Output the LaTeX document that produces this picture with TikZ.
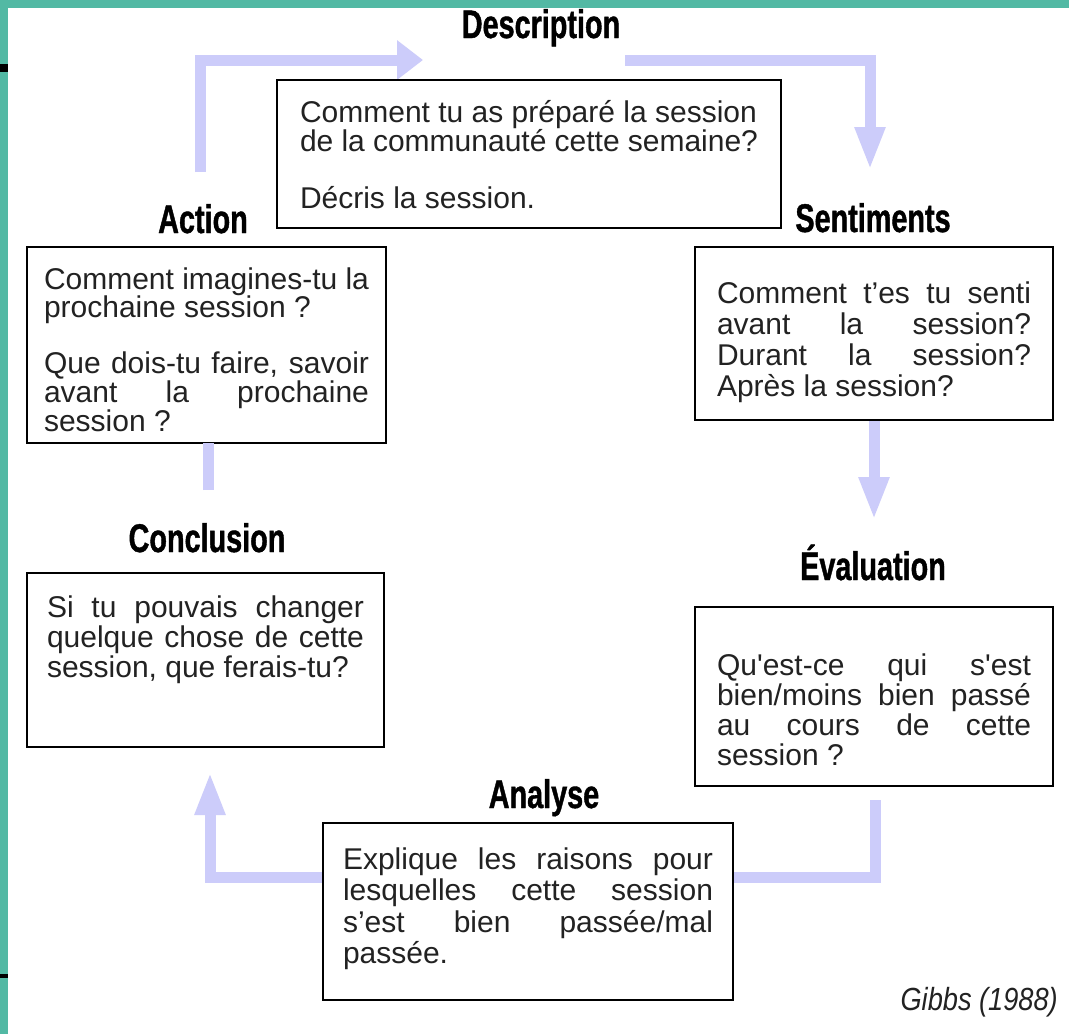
\documentclass[tikz,border=0pt]{standalone}
\usepackage{fontspec}
\setmainfont{Liberation Sans}
\newfontfamily\headfont{Liberation Sans}[FakeStretch=0.72, FakeBold=1]
\newfontfamily\gibbsfont{Liberation Sans}[FakeStretch=0.85]
\usetikzlibrary{arrows.meta}

\definecolor{bordergreen}{RGB}{82,185,164}
\definecolor{lavender}{RGB}{204,204,250}
\definecolor{textgray}{RGB}{34,34,34}

\newcommand{\jline}[1]{\hbox to\hsize{#1}}

\begin{document}
\begin{tikzpicture}[x=1pt, y=-1pt,
	head/.style={anchor=base, inner sep=0pt, font=\headfont\bfseries\fontsize{40}{42}\selectfont},
	box/.style={draw=black, line width=1.8pt, fill=white, anchor=north west, outer sep=0pt, inner ysep=0pt, align=justify, text=textgray, font=\fontsize{30}{27}\selectfont},
	flow/.style={draw=lavender, line width=11pt},
	bigtip/.style={-{Triangle[length=43pt, width=28pt]}}
	]

	\useasboundingbox (0,0) rectangle (1069,1034);
	\fill[white] (0,0) rectangle (1069,1034);
	\fill[bordergreen] (0,0) rectangle (1069,7.5);
	\fill[bordergreen] (0,0) rectangle (7.5,1034);
	\fill[black] (0,64) rectangle (7.5,72);
	\fill[black] (0,974) rectangle (7.5,978);

	\node (desc) [head] at (541,38) {Description};
	\node (act) [head] at (203,233) {Action};
	\node (feel) [head] at (873,232) {Sentiments};
	\node (concl) [head] at (207,552) {Conclusion};
	\node (eval) [head] at (873,580) {Évaluation};
	\node (anal) [head] at (544,808) {Analyse};

	\coordinate (actout) at (200,172);
	\coordinate (descin) at (423,60);
	\coordinate (descout) at (625,60);
	\coordinate (feelin) at (870,170);
	\coordinate (evalin) at (874,520);
	\coordinate (evalout) at (875,800);
	\coordinate (conclin) at (210,772);
	\coordinate (conclout) at (208,490);

	\draw [flow, -{Triangle[length=26pt, width=38pt]}] (actout) |- (descin);
	\draw [flow, bigtip] (descout) -| (feelin);
	\draw [flow, bigtip] (evalout)--++(0,77) -| (conclin);

	\node (descbox) [box, text width=458pt, inner xsep=23pt, text height=42pt, text depth=106pt, font=\fontsize{30}{26}\selectfont] at (277,80)
		{Comment tu as préparé la session\\ de la communauté cette semaine?\\[31pt] Décris la session.};

	\node (actbox) [box, text width=325pt, inner xsep=17pt, text height=42pt, text depth=154pt] at (27,247)
		{\jline{Comment imagines-tu la} prochaine session ?\\[27pt]
		\jline{Que dois-tu faire, savoir} \jline{avant la prochaine} session ?};

	\node (feelbox) [box, text width=314pt, inner xsep=22pt, text height=56pt, text depth=117pt, font=\fontsize{30}{31}\selectfont] at (695,247)
		{\jline{Comment t’es tu senti} \jline{avant la session?} \jline{Durant la session?} Après la session?};

	\node (evalbox) [box, text width=314pt, inner xsep=22pt, text height=68pt, text depth=111pt, font=\fontsize{30}{30}\selectfont] at (695,607)
		{\jline{Qu\textquotesingle est-ce qui s\textquotesingle est} \jline{bien/moins bien passé} \jline{au cours de cette} session ?};

	\node (conclbox) [box, text width=317pt, inner xsep=20pt, text height=44pt, text depth=130pt, font=\fontsize{30}{30}\selectfont] at (27,573)
		{\jline{Si tu pouvais changer} \jline{quelque chose de cette} session, que ferais-tu?};

	\node (analbox) [box, text width=370pt, inner xsep=20pt, text height=46pt, text depth=131pt, font=\fontsize{30}{31.5}\selectfont] at (323,823)
		{\jline{Explique les raisons pour} \jline{lesquelles cette session} \jline{s’est bien passée/mal} passée.};

	\draw [flow, bigtip] ([yshift=-1pt]feelbox.south) -- (evalin);
	\draw [flow] (conclout) -- (conclout |- actbox.south);

	\node (gibbs) [anchor=base east, inner sep=0pt, text=textgray, font=\gibbsfont\itshape\fontsize{32}{34}\selectfont] at (1058,1010) {Gibbs (1988)};

\end{tikzpicture}
\end{document}
